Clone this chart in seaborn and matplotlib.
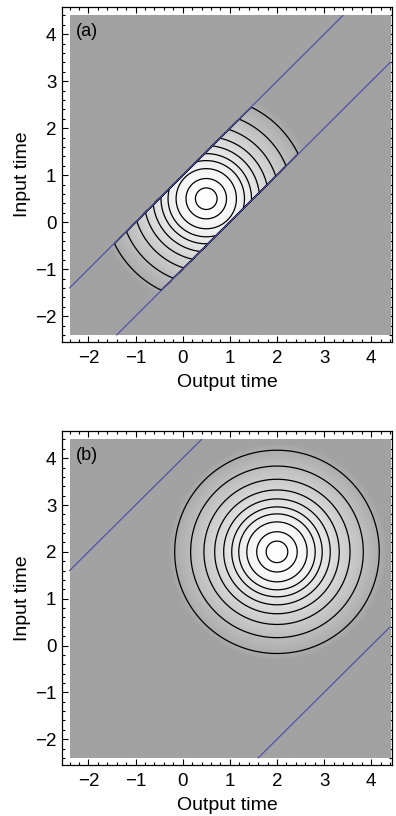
# Contornos de la ventana temporal: tiempo de entrada frente a tiempo de salida
import numpy as np
import matplotlib
matplotlib.use('Agg')
import matplotlib.pyplot as plt
from matplotlib.colors import LinearSegmentedColormap, PowerNorm
from matplotlib.ticker import MultipleLocator
import seaborn as sns

# Datos
panelNames = ['(a)', '(b)']
centers = [(0.5, 0.5), (2.0, 2.0)]          # centro de los círculos
bandOffsets = [[-1.0, 1.0], [-4.0, 4.0]]    # rectas azules y = x + c
bandLimits = [1.0, None]                    # |y - x| < 1 en (a), sin corte en (b)
contourLevels = [0.095, 0.187, 0.301, 0.418, 0.528,
                 0.631, 0.720, 0.815, 0.912, 0.974]
dataRange = [-2.4, 4.4]
tickValues = [-2, -1, 0, 1, 2, 3, 4]
xLabel = 'Output time'
yLabel = 'Input time'


def get_field(center, bandLimit, n=681):
    '''
    Calcula la gaussiana centrada en center, cortada a la banda |y - x| < bandLimit
    '''
    t = np.linspace(dataRange[0], dataRange[1], n)
    x, y = np.meshgrid(t, t)
    z = np.exp(-((x - center[0])**2 + (y - center[1])**2) / 2)
    if bandLimit is not None:
        z = np.where(np.abs(y - x) < bandLimit, z, 0.0)
    return x, y, z


def draw_panel(ax, i, cmap):
    x, y, z = get_field(centers[i], bandLimits[i])
    ax.imshow(z, extent=[dataRange[0], dataRange[1], dataRange[0], dataRange[1]],
              origin='lower', cmap=cmap, norm=PowerNorm(0.6, vmin=0.07, vmax=1),
              interpolation='bilinear', zorder=1)
    ax.contour(x, y, z, levels=contourLevels, colors='black',
               linewidths=0.9, zorder=2)
    # Rectas y = x + c recortadas al cuadrado de datos
    for c in bandOffsets[i]:
        x0 = max(dataRange[0], dataRange[0] - c)
        x1 = min(dataRange[1], dataRange[1] - c)
        xs = np.array([x0, x1])
        sns.lineplot(x=xs, y=xs + c, color='#5252a8', linewidth=0.9,
                     ax=ax, zorder=3)
    ax.text(-2.27, 4.05, panelNames[i], fontsize=13, ha='left', va='center',
            color='black', zorder=4)
    ax.set_aspect('auto')
    ax.set_xlim(-2.56, 4.44)
    ax.set_ylim(-2.55, 4.58)
    ax.set_xticks(tickValues)
    ax.set_yticks(tickValues)
    ax.set_xticklabels([f'{v}'.replace('-', '\u2212') for v in tickValues])
    ax.set_yticklabels([f'{v}'.replace('-', '\u2212') for v in tickValues])
    ax.xaxis.set_minor_locator(MultipleLocator(0.2))
    ax.yaxis.set_minor_locator(MultipleLocator(0.2))
    ax.tick_params(which='both', direction='in', top=True, right=True,
                   color='black', labelcolor='black', width=0.8,
                   labelsize=13.5)
    ax.tick_params(which='major', length=4.5)
    ax.tick_params(which='minor', length=2.5)
    ax.tick_params(axis='x', pad=6)
    ax.tick_params(axis='y', pad=4)
    ax.set_xlabel(xLabel, fontsize=14, labelpad=5, color='black')
    ax.set_ylabel(yLabel, fontsize=14, labelpad=3, color='black')
    for s in ax.spines.values():
        s.set_color('black')
        s.set_linewidth(0.9)


sns.set_theme(style='ticks')
plt.rcParams['font.family'] = ['Liberation Sans', 'DejaVu Sans']

fig = plt.figure(figsize=(3.96, 8.16), dpi=100)
grayMap = LinearSegmentedColormap.from_list('gris', ['#a2a2a2', '#ffffff'])
axA = fig.add_axes([62 / 396, 474 / 816, 330 / 396, 335 / 816])
axB = fig.add_axes([62 / 396, 51 / 816, 330 / 396, 334 / 816])
draw_panel(axA, 0, grayMap)
draw_panel(axB, 1, grayMap)

fig.savefig('out.png', dpi=100)
